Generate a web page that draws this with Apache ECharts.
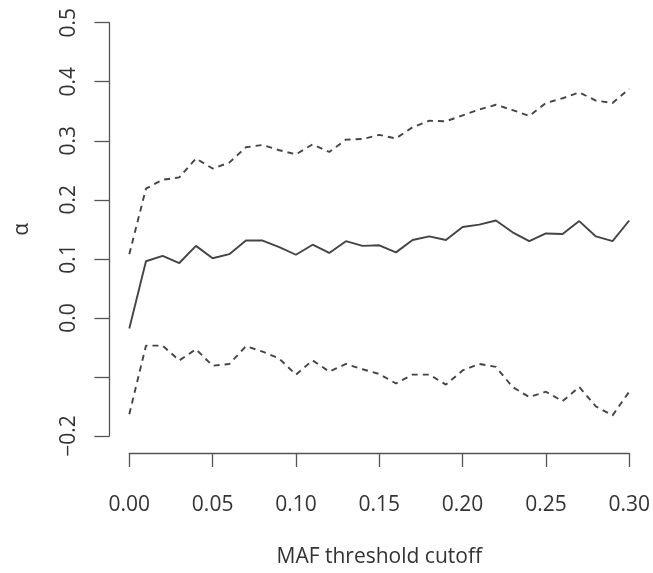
<!DOCTYPE html>
<html>
<head>
<meta charset="utf-8">
<script src="https://cdn.jsdelivr.net/npm/echarts@6/dist/echarts.min.js"></script>
<style>
  html, body { margin: 0; padding: 0; background: #fff; }
  #chart { width: 653px; height: 573px; }
</style>
</head>
<body>
<div id="chart"></div>
<script>
// MAF threshold cutoffs (x)
const mafCutoffs = [0.00, 0.01, 0.02, 0.03, 0.04, 0.05, 0.06, 0.07, 0.08, 0.09, 0.10,
  0.11, 0.12, 0.13, 0.14, 0.15, 0.16, 0.17, 0.18, 0.19, 0.20,
  0.21, 0.22, 0.23, 0.24, 0.25, 0.26, 0.27, 0.28, 0.29, 0.30];

// alpha estimate (solid)
const alphaEst = [-0.018, 0.096, 0.105, 0.093, 0.122, 0.101, 0.108, 0.131, 0.131, 0.120, 0.107,
  0.124, 0.110, 0.130, 0.122, 0.123, 0.111, 0.132, 0.138, 0.132, 0.154,
  0.158, 0.165, 0.145, 0.130, 0.143, 0.142, 0.164, 0.138, 0.130, 0.165];

// upper bound (dashed)
const alphaUpper = [0.108, 0.219, 0.234, 0.238, 0.270, 0.253, 0.263, 0.289, 0.293, 0.284, 0.277,
  0.294, 0.281, 0.302, 0.303, 0.310, 0.304, 0.323, 0.334, 0.333, 0.343,
  0.353, 0.361, 0.352, 0.342, 0.364, 0.372, 0.382, 0.368, 0.364, 0.388];

// lower bound (dashed)
const alphaLower = [-0.163, -0.047, -0.047, -0.072, -0.053, -0.081, -0.078, -0.048, -0.057, -0.069, -0.096,
  -0.072, -0.091, -0.078, -0.087, -0.095, -0.111, -0.096, -0.096, -0.113, -0.089,
  -0.078, -0.083, -0.117, -0.134, -0.125, -0.141, -0.117, -0.150, -0.165, -0.125];

// y tick labels from -0.2 to 0.5 (R dropped the -0.1 label)
const yTickLabels = ['\u22120.2', '', '0.0', '0.1', '0.2', '0.3', '0.4', '0.5'];

const pairs = ys => mafCutoffs.map((x, i) => [x, ys[i]]);

const font = '"Open Sans", "Noto Sans", sans-serif';
const lineColor = '#444';

const chart = echarts.init(document.getElementById('chart'));

chart.setOption({
  animation: false,
  backgroundColor: '#fff',
  grid: { left: 129.3, right: 22.3, top: 22.7, bottom: 130.7 },
  xAxis: {
    type: 'value',
    min: 0,
    max: 0.3,
    interval: 0.05,
    offset: 17,
    name: 'MAF threshold cutoff',
    nameLocation: 'middle',
    nameGap: 94,
    nameTextStyle: { fontFamily: font, fontSize: 21, color: '#333' },
    splitLine: { show: false },
    axisLine: { onZero: false, lineStyle: { color: '#555', width: 1.3 } },
    axisTick: { length: 14, lineStyle: { color: '#555', width: 1.3 } },
    axisLabel: {
      margin: 42,
      fontFamily: font,
      fontSize: 21,
      color: '#333',
      formatter: v => v.toFixed(2)
    }
  },
  yAxis: {
    type: 'value',
    min: -0.2,
    max: 0.5,
    interval: 0.1,
    offset: 20,
    name: '\u03b1',
    nameLocation: 'middle',
    nameRotate: 90,
    nameGap: 77,
    nameTextStyle: { fontFamily: font, fontSize: 21, color: '#333' },
    splitLine: { show: false },
    axisLine: { onZero: false, lineStyle: { color: '#555', width: 1.3 } },
    axisTick: { length: 15, lineStyle: { color: '#555', width: 1.3 } },
    axisLabel: {
      rotate: 90,
      margin: 30,
      fontFamily: font,
      fontSize: 21,
      color: '#333',
      formatter: v => yTickLabels[Math.round(v * 10) + 2]
    }
  },
  series: [
    {
      type: 'line',
      data: pairs(alphaUpper),
      clip: false,
      symbol: 'none',
      lineStyle: { color: lineColor, width: 1.9, type: [6, 5] }
    },
    {
      type: 'line',
      data: pairs(alphaEst),
      clip: false,
      symbol: 'none',
      lineStyle: { color: lineColor, width: 1.9 }
    },
    {
      type: 'line',
      data: pairs(alphaLower),
      clip: false,
      symbol: 'none',
      lineStyle: { color: lineColor, width: 1.9, type: [6, 5] }
    }
  ]
});
</script>
</body>
</html>
